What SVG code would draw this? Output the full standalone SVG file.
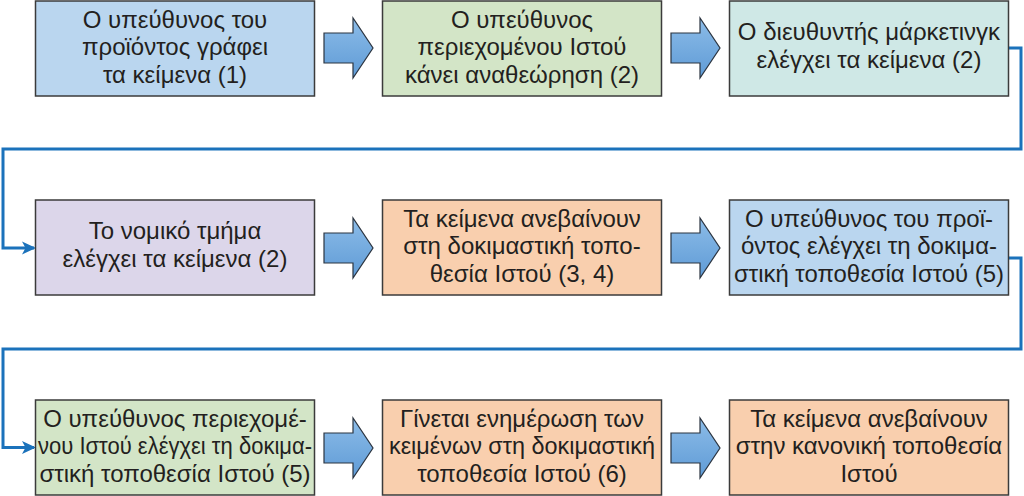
<svg xmlns="http://www.w3.org/2000/svg" width="1024" height="496" viewBox="0 0 1024 496">
<defs>
<linearGradient id="ag" x1="0" y1="0" x2="0" y2="1">
<stop offset="0" stop-color="#8cbce8"/>
<stop offset="1" stop-color="#5f9bd6"/>
</linearGradient>
<marker id="ah" markerWidth="14" markerHeight="14" refX="12" refY="7" orient="auto" markerUnits="userSpaceOnUse" viewBox="0 0 14 14">
<path d="M0,0.5 L14,7 L0,13.5 L3.5,7 Z" fill="#1b72bb"/>
</marker>
<style>
.box{stroke:#3b3b3b;stroke-width:1.5}
.t{font-family:"Liberation Sans",Arial,sans-serif;font-size:24px;fill:#231f20;text-anchor:middle}
.arr{fill:url(#ag);stroke:#2b3440;stroke-width:1.2}
.con{fill:none;stroke:#1b72bb;stroke-width:3}
.blue{fill:#bad6ef}.green{fill:#d3e5c7}.teal{fill:#cfe8e6}.lav{fill:#dcd6ea}.peach{fill:#f9cfae}
</style>
<path id="bigarrow" class="arr" d="M0,-15 L29,-15 L29,-30 L49,0 L29,30 L29,15 L0,15 Z"/>
</defs>
<rect width="1024" height="496" fill="#ffffff"/>
<g id="connectors">
<path class="con" d="M1008,48 H1021 V149 H3 V248 H34" marker-end="url(#ah)"/>
<path class="con" d="M1008,258 H1021 V349 H3 V447.5 H34" marker-end="url(#ah)"/>
<use href="#bigarrow" x="324" y="48"/>
<use href="#bigarrow" x="671" y="48"/>
<use href="#bigarrow" x="324" y="248"/>
<use href="#bigarrow" x="671" y="248"/>
<use href="#bigarrow" x="324" y="448"/>
<use href="#bigarrow" x="671" y="448"/>
</g>
<g id="n1"><rect class="box blue" x="35.5" y="1" width="279" height="95"/>
<text class="t" x="175" y="27.5">Ο υπεύθυνος του</text>
<text class="t" x="175" y="55">προϊόντος γράφει</text>
<text class="t" x="175" y="82.5">τα κείμενα (1)</text></g>
<g id="n2"><rect class="box green" x="382.5" y="1" width="279" height="95"/>
<text class="t" x="522" y="27.5">Ο υπεύθυνος</text>
<text class="t" x="522" y="55">περιεχομένου Ιστού</text>
<text class="t" x="522" y="82.5">κάνει αναθεώρηση (2)</text></g>
<g id="n3"><rect class="box teal" x="729.5" y="1" width="279" height="95"/>
<text class="t" x="869" y="40">Ο διευθυντής μάρκετινγκ</text>
<text class="t" x="869" y="67.5">ελέγχει τα κείμενα (2)</text></g>
<g id="n4"><rect class="box lav" x="35.5" y="200" width="279" height="95"/>
<text class="t" x="175" y="239">Το νομικό τμήμα</text>
<text class="t" x="175" y="266.5">ελέγχει τα κείμενα (2)</text></g>
<g id="n5"><rect class="box peach" x="382.5" y="200" width="279" height="95"/>
<text class="t" x="522" y="226.5">Τα κείμενα ανεβαίνουν</text>
<text class="t" x="522" y="254">στη δοκιμαστική τοπο-</text>
<text class="t" x="522" y="281.5">θεσία Ιστού (3, 4)</text></g>
<g id="n6"><rect class="box blue" x="729.5" y="200" width="279" height="95"/>
<text class="t" x="869" y="226.5">Ο υπεύθυνος του προϊ-</text>
<text class="t" x="869" y="254">όντος ελέγχει τη δοκιμα-</text>
<text class="t" x="869" y="281.5" textLength="270" lengthAdjust="spacingAndGlyphs">στική τοποθεσία Ιστού (5)</text></g>
<g id="n7"><rect class="box green" x="35.5" y="400" width="279" height="95"/>
<text class="t" x="175" y="426.5">Ο υπεύθυνος περιεχομέ-</text>
<text class="t" x="175" y="454" textLength="274" lengthAdjust="spacingAndGlyphs">νου Ιστού ελέγχει τη δοκιμα-</text>
<text class="t" x="175" y="481.5">στική τοποθεσία Ιστού (5)</text></g>
<g id="n8"><rect class="box peach" x="382.5" y="400" width="279" height="95"/>
<text class="t" x="522" y="426.5">Γίνεται ενημέρωση των</text>
<text class="t" x="522" y="454" textLength="266" lengthAdjust="spacingAndGlyphs">κειμένων στη δοκιμαστική</text>
<text class="t" x="522" y="481.5">τοποθεσία Ιστού (6)</text></g>
<g id="n9"><rect class="box peach" x="729.5" y="400" width="279" height="95"/>
<text class="t" x="869" y="426.5">Τα κείμενα ανεβαίνουν</text>
<text class="t" x="869" y="454">στην κανονική τοποθεσία</text>
<text class="t" x="869" y="481.5">Ιστού</text></g>
</svg>
